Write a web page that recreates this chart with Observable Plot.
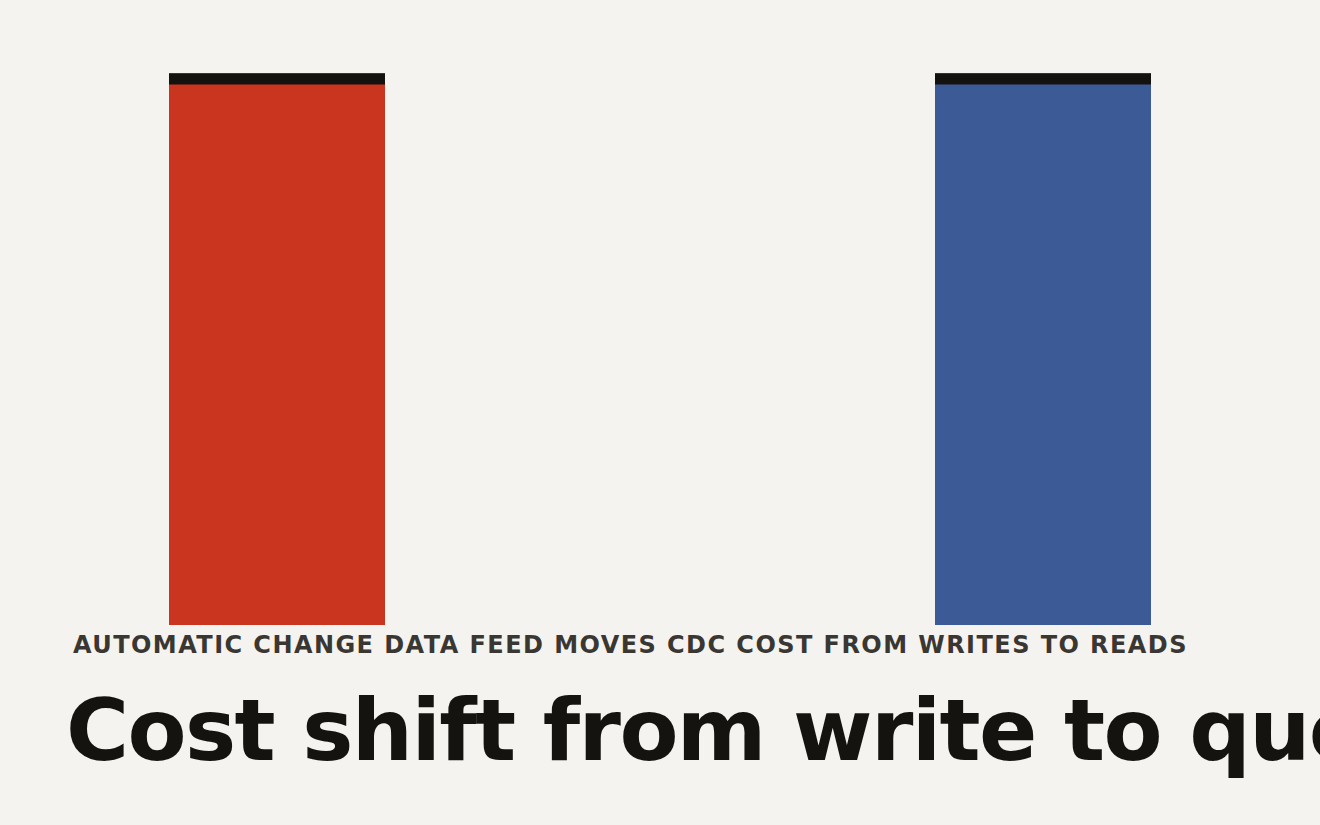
<!DOCTYPE html>
<html>
<head>
<meta charset="utf-8">
<script src="https://cdn.jsdelivr.net/npm/d3@7"></script>
<script src="https://cdn.jsdelivr.net/npm/@observablehq/plot@0.6"></script>
<style>
  html, body { margin: 0; padding: 0; background: #F4F3EF; overflow: hidden; width: 1320px; height: 825px; }
  #chart svg { display: block; background: #F4F3EF; }
  .subtitle {
    font-family: "DejaVu Sans", sans-serif; font-weight: bold; font-size: 24px;
    letter-spacing: 0.06em; color: #3A3733; margin: 6px 0 0 73px; white-space: nowrap;
  }
  .title {
    font-family: "DejaVu Sans", sans-serif; font-weight: bold; font-size: 86px;
    letter-spacing: -0.019em; color: #14130F; margin: 21px 0 0 66px; white-space: nowrap;
  }
</style>
</head>
<body>
<div id="chart"></div>
<div class="subtitle">AUTOMATIC CHANGE DATA FEED MOVES CDC COST FROM WRITES TO READS</div>
<div class="title">Cost shift from write to query</div>
<script>
const categories = ["Write-time CDC", "Read-time CDF"];
const costs = [100, 100];
const colors = ["#CA3520", "#3C5A95"];

const data = categories.map((c, i) => ({category: c, cost: costs[i], color: colors[i]}));

const chart = Plot.plot({
  width: 1320,
  height: 625,
  marginTop: 73,
  marginBottom: 0,
  marginLeft: 0,
  marginRight: 0,
  style: {background: "#F4F3EF"},
  x: {domain: categories, axis: null, paddingInner: 0.718, paddingOuter: 0.22},
  y: {domain: [0, d3.max(costs)], axis: null},
  marks: [
    Plot.barY(data, {x: "category", y: "cost", fill: "color"}),
    Plot.tickY(data, {x: "category", y: "cost", stroke: "#14120E", strokeWidth: 11, dy: 5.5})
  ]
});
document.getElementById("chart").appendChild(chart);
</script>
</body>
</html>
